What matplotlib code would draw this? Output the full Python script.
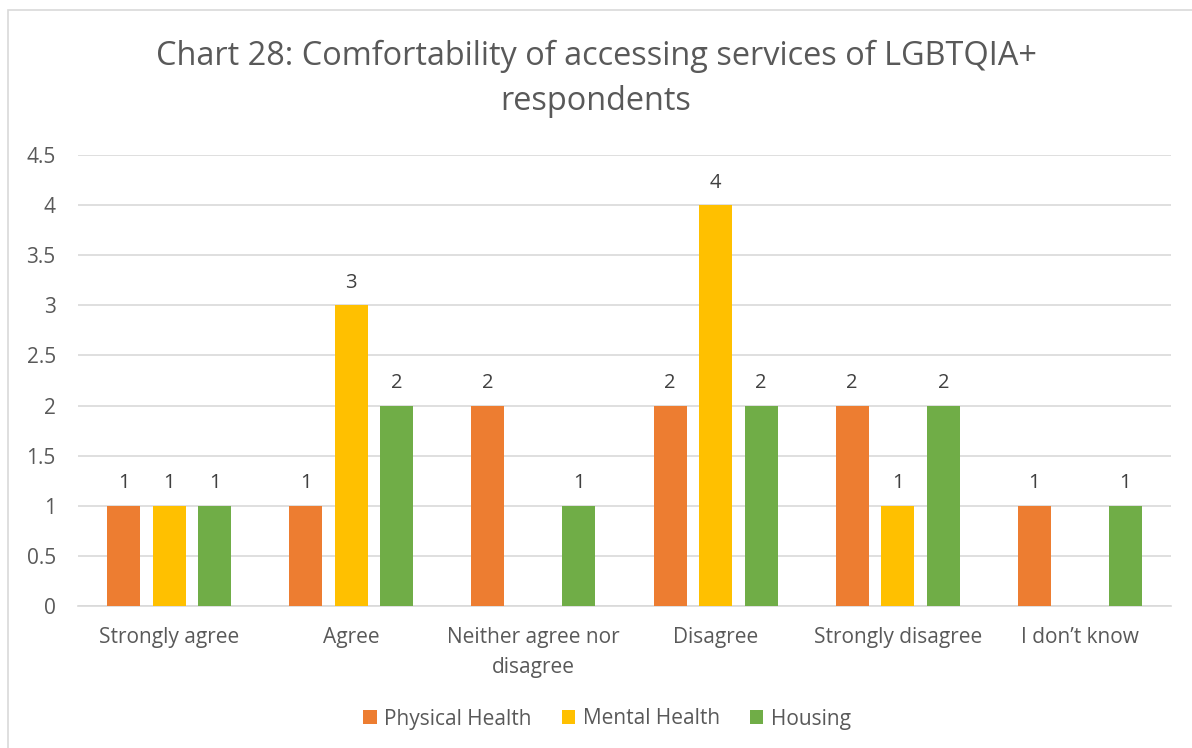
import matplotlib
matplotlib.use("Agg")
import matplotlib.pyplot as plt
from matplotlib.patches import Rectangle
import numpy as np

categories = ["Strongly agree", "Agree", "Neither agree nor\ndisagree", "Disagree",
              "Strongly disagree", "I don\u2019t know"]
physical_health = [1, 1, 2, 2, 2, 1]
mental_health = [1, 3, 0, 4, 1, 0]
housing = [1, 2, 1, 2, 2, 1]
series_names = ["Physical Health", "Mental Health", "Housing"]
y_ticks = [0, 0.5, 1, 1.5, 2, 2.5, 3, 3.5, 4, 4.5]

colors = ["#ED7D31", "#FFC000", "#70AD47"]
text_color = "#595959"
grid_color = "#D9D9D9"

plt.rcParams["font.family"] = ["Open Sans", "DejaVu Sans"]

W, H = 1192, 748
fig = plt.figure(figsize=(W / 100, H / 100), dpi=100)
ax = fig.add_axes([78 / W, 1 - 606 / H, (1171 - 78) / W, (606 - 155) / H])

# chart frame
fig.patches.append(Rectangle((8 / W, -0.1), 1.2, 1 - 10 / H + 0.1,
                             transform=fig.transFigure, fill=False,
                             edgecolor=grid_color, linewidth=1.2))

x = np.arange(len(categories))
width = 0.181
offset = 0.25
for i, (vals, name) in enumerate(zip([physical_health, mental_health, housing], series_names)):
    pos = x + (i - 1) * offset
    v = np.array(vals, dtype=float)
    mask = v > 0
    ax.bar(pos[mask], v[mask], width, color=colors[i], label=name, zorder=3)
    for xx, vv in zip(pos[mask], v[mask]):
        ax.annotate(f"{vv:g}", (xx, vv), xytext=(0, 9), textcoords="offset points",
                    ha="center", va="bottom", fontsize=14.5, color="#404040")

ax.set_xlim(-0.5, len(categories) - 0.5)
ax.set_ylim(0, 4.5)
ax.set_yticks(y_ticks)
ax.set_yticklabels([f"{t:g}" for t in y_ticks])
ax.set_xticks(x)
ax.set_xticklabels(categories, linespacing=1.6)
ax.tick_params(axis="both", length=0, labelsize=15, colors=text_color)
ax.tick_params(axis="y", pad=16)
ax.tick_params(axis="x", pad=15)
ax.yaxis.grid(True, color=grid_color, linewidth=1.2, zorder=0)
for s in ["top", "right", "left"]:
    ax.spines[s].set_visible(False)
ax.spines["bottom"].set_color(grid_color)
ax.spines["bottom"].set_linewidth(1.2)

fig.text(0.5, 1 - 79 / H, "Chart 28: Comfortability of accessing services of LGBTQIA+\nrespondents",
         ha="center", va="center", fontsize=23.4, color=text_color, linespacing=1.45)

fig.legend(loc="center", bbox_to_anchor=(607 / W, 1 - 719 / H), ncol=3, frameon=False,
           fontsize=15, labelcolor=text_color, handlelength=0.65, handleheight=0.65,
           handletextpad=0.35, columnspacing=1.45)

fig.savefig("out.png", dpi=100)
